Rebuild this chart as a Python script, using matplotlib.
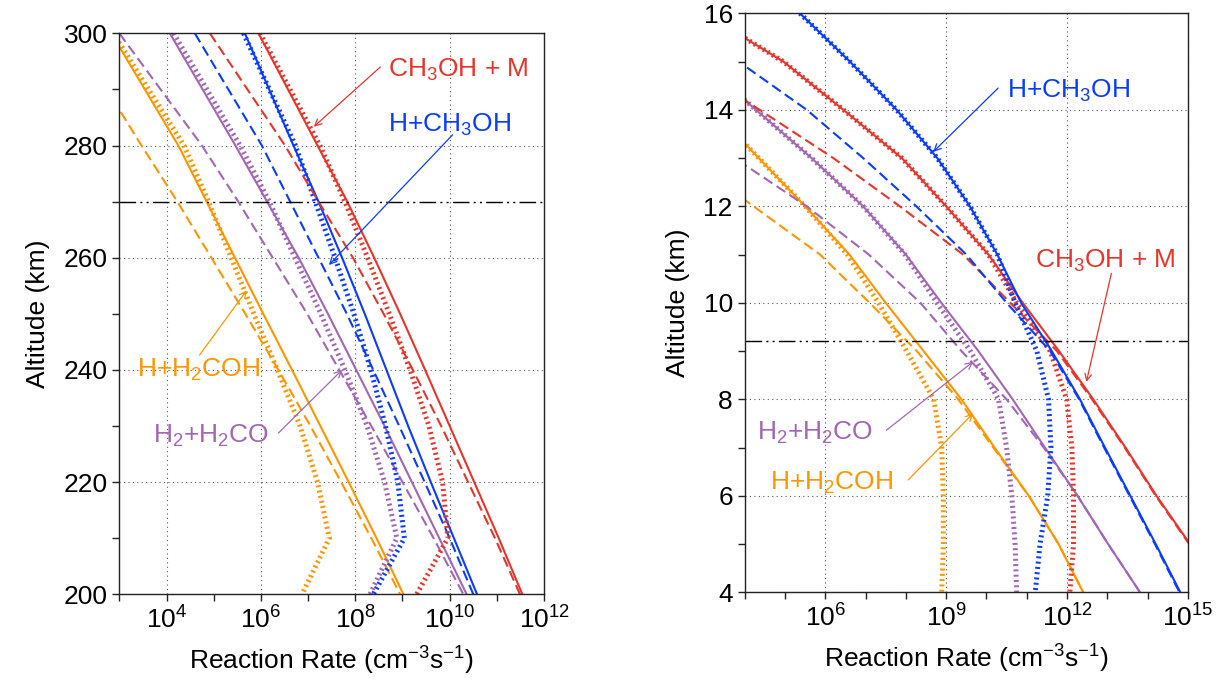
import numpy as np
import matplotlib
matplotlib.use("Agg")
import matplotlib.pyplot as plt
from matplotlib.ticker import FixedLocator, NullFormatter

plt.rcParams['font.family'] = ['Liberation Sans', 'DejaVu Sans']
plt.rcParams['mathtext.fontset'] = 'custom'
plt.rcParams['mathtext.rm'] = 'Liberation Sans'
plt.rcParams['mathtext.it'] = 'Liberation Sans:italic'

## Couleurs
RED = '#e8352b'
BLUE = '#0a3cff'
PURPLE = '#a266b4'
ORANGE = '#ff9500'

## Donnees - panneau gauche (altitude en km, taux en log10 cm-3 s-1)
alt_left = [300, 280, 270, 260, 250, 240, 230, 220, 210, 200]

red_solid_L = [5.95, 7.20, 7.83, 8.40, 8.95, 9.48, 10.0, 10.52, 11.04, 11.54]
red_dash_L = [4.92, 6.51, 7.22, 7.95, 8.60, 9.22, 9.82, 10.39, 10.96, 11.49]
red_dot_L = [5.98, 7.25, 7.78, 8.26, 8.72, 9.16, 9.56, 9.85, 9.96, 9.30]

blue_solid_L = [5.66, 6.69, 7.22, 7.72, 8.20, 8.66, 9.12, 9.60, 10.09, 10.58]
blue_dash_L = [4.60, 6.02, 6.62, 7.22, 7.82, 8.38, 8.93, 9.47, 10.0, 10.50]
blue_dot_L = [5.63, 6.73, 7.15, 7.57, 7.97, 8.33, 8.64, 8.90, 9.04, 8.38]

purple_solid_L = [4.07, 5.46, 6.13, 6.80, 7.42, 8.02, 8.62, 9.20, 9.78, 10.36]
purple_dash_L = [3.0, 4.75, 5.52, 6.25, 6.98, 7.66, 8.34, 9.0, 9.66, 10.29]
purple_dot_L = [4.15, 5.56, 6.18, 6.72, 7.27, 7.78, 8.25, 8.62, 8.88, 8.31]

orange_solid_L = [2.83, 4.25, 4.85, 5.45, 6.05, 6.66, 7.26, 7.86, 8.45, 9.02]
orange_dash_L = [2.0, 3.47, 4.23, 4.95, 5.67, 6.37, 7.05, 7.70, 8.34, 8.95]
orange_dot_L = [2.87, 4.37, 4.89, 5.37, 5.85, 6.35, 6.83, 7.20, 7.45, 6.87]

## Donnees - panneau droit
alt_right = [16, 15, 14, 13, 12, 11, 10, 9, 8, 7, 6, 5, 4]

red_solid_R = [3.0, 4.96, 6.45, 7.9, 9.0, 10.05, 10.9, 11.8, 12.65, 13.45, 14.22, 15.05, 15.9]
red_dash_R = [0.7, 2.5, 4.37, 6.2, 7.85, 9.42, 10.59, 11.75, 12.62, 13.43, 14.2, 15.03, 15.9]
red_dot_R = [3.0, 4.96, 6.45, 7.9, 9.0, 10.05, 10.75, 11.58, 11.99, 12.12, 12.16, 12.16, 12.07]

blue_solid_R = [5.37, 6.61, 7.77, 8.78, 9.59, 10.27, 10.86, 11.62, 12.32, 12.94, 13.57, 14.2, 14.81]
blue_dash_R = [2.2, 3.85, 5.54, 6.94, 8.26, 9.5, 10.5, 11.58, 12.30, 12.92, 13.55, 14.18, 14.79]
blue_dot_R = [5.37, 6.61, 7.77, 8.78, 9.59, 10.27, 10.71, 11.25, 11.54, 11.6, 11.52, 11.33, 11.21]

purple_solid_R = [1.5, 2.9, 4.28, 5.66, 6.94, 8.0, 8.88, 9.8, 10.65, 11.45, 12.26, 13.02, 13.81]
purple_dash_R = [-2.0, 0.0, 1.9, 3.75, 5.54, 7.08, 8.36, 9.38, 10.5, 11.42, 12.26, 13.02, 13.81]
purple_dot_R = [1.5, 2.9, 4.28, 5.66, 6.94, 7.98, 8.77, 9.6, 10.3, 10.5, 10.63, 10.71, 10.75]

orange_solid_R = [0.8, 2.0, 3.2, 4.35, 5.5, 6.6, 7.5, 8.44, 9.38, 10.2, 11.05, 11.79, 12.40]
orange_dash_R = [-2.2, -0.6, 1.0, 2.6, 4.22, 5.87, 7.1, 8.27, 9.3, 10.17, 11.05, 11.79, 12.40]
orange_dot_R = [0.8, 2.0, 3.2, 4.35, 5.5, 6.55, 7.32, 8.02, 8.69, 8.89, 8.93, 8.93, 8.89]

## Styles
SOLID = dict(lw=1.5, ls='-')
DASH = dict(lw=1.5, ls=(0, (5, 2.4)))
DOT = dict(lw=3.6, ls=(0, (0.4, 0.66)), dash_capstyle='butt')


def draw_panel(ax, alt, series):
    for color, solid, dash, dot in series:
        ax.plot(10.0 ** np.array(solid), alt, color=color, **SOLID)
        ax.plot(10.0 ** np.array(dash), alt, color=color, **DASH)
        ax.plot(10.0 ** np.array(dot), alt, color=color, **DOT)


def style_axes(ax, xmaj, xmin, ymaj, ymin, xlabels):
    ax.set_xscale('log')
    ax.xaxis.set_major_locator(FixedLocator([10.0 ** e for e in xmaj]))
    ax.xaxis.set_minor_locator(FixedLocator([10.0 ** e for e in xmin]))
    ax.set_xticklabels(xlabels)
    ax.xaxis.set_minor_formatter(NullFormatter())
    ax.yaxis.set_major_locator(FixedLocator(ymaj))
    ax.yaxis.set_minor_locator(FixedLocator(ymin))
    ax.tick_params(which='both', direction='out', length=5, width=1,
                   top=False, right=False, labelsize=19, color='#222222')
    ax.tick_params(axis='x', which='major', pad=4)
    ax.grid(which='major', ls=(0, (1, 3)), color='#555555', lw=0.8)
    for s in ax.spines.values():
        s.set_color('#222222')
        s.set_linewidth(1.0)
    ax.set_xlabel(r'Reaction Rate (cm$^{\mathregular{-3}}$s$^{\mathregular{-1}}$)', fontsize=19, labelpad=8)
    ax.set_ylabel('Altitude (km)', fontsize=19, labelpad=10)


def label(ax, txt, color, pos, start, tip):
    ax.text(pos[0], pos[1], txt, color=color, fontsize=19, ha='left', va='baseline')
    ax.annotate('', xy=tip, xytext=start,
                arrowprops=dict(arrowstyle='->', color=color, lw=0.9,
                                shrinkA=0, shrinkB=0, mutation_scale=12))


fig = plt.figure(figsize=(12.29, 6.79), dpi=100)

## Panneau gauche
ax1 = fig.add_axes([0.0971, 0.1247, 0.3456, 0.8262])
draw_panel(ax1, alt_left, [
    (ORANGE, orange_solid_L, orange_dash_L, orange_dot_L),
    (PURPLE, purple_solid_L, purple_dash_L, purple_dot_L),
    (BLUE, blue_solid_L, blue_dash_L, blue_dot_L),
    (RED, red_solid_L, red_dash_L, red_dot_L),
])
ax1.axhline(270, color='k', lw=1, ls=(0, (12, 3, 1.5, 3, 1.5, 3)))
ax1.set_xlim(1e3, 1e12)
ax1.set_ylim(200, 300)
style_axes(ax1, [4, 6, 8, 10, 12], [3, 5, 7, 9, 11],
           [200, 220, 240, 260, 280, 300], [210, 230, 250, 270, 290],
           [r'$\mathregular{10^{%d}}$' % e for e in [4, 6, 8, 10, 12]])

label(ax1, r'CH$_3$OH + M', RED, (10 ** 8.70, 292.3), (10 ** 8.53, 294.0), (10 ** 7.12, 283.35))
label(ax1, r'H+CH$_3$OH', BLUE, (10 ** 8.70, 282.4), (10 ** 10.06, 281.9), (10 ** 7.44, 258.7))
label(ax1, r'H+H$_2$COH', ORANGE, (10 ** 3.37, 238.75), (10 ** 4.70, 242.65), (10 ** 5.70, 254.2))
label(ax1, r'H$_2$+H$_2$CO', PURPLE, (10 ** 3.72, 227.0), (10 ** 6.37, 228.75), (10 ** 7.72, 240.0))

## Panneau droit
ax2 = fig.add_axes([0.6059, 0.1277, 0.3607, 0.8527])
draw_panel(ax2, alt_right, [
    (ORANGE, orange_solid_R, orange_dash_R, orange_dot_R),
    (PURPLE, purple_solid_R, purple_dash_R, purple_dot_R),
    (RED, red_solid_R, red_dash_R, red_dot_R),
    (BLUE, blue_solid_R, blue_dash_R, blue_dot_R),
])
ax2.axhline(9.2, color='k', lw=1, ls=(0, (12, 3, 1.5, 3, 1.5, 3)))
ax2.set_xlim(1e4, 1e15)
ax2.set_ylim(4, 16)
style_axes(ax2, [6, 9, 12, 15], [4, 5, 7, 8, 10, 11, 13, 14],
           [4, 6, 8, 10, 12, 14, 16], [5, 7, 9, 11, 13, 15],
           [r'$\mathregular{10^{%d}}$' % e for e in [6, 9, 12, 15]])

label(ax2, r'H+CH$_3$OH', BLUE, (10 ** 10.50, 14.24), (10 ** 10.29, 14.45), (10 ** 8.68, 13.13))
label(ax2, r'CH$_3$OH + M', RED, (10 ** 11.20, 10.72), (10 ** 13.10, 10.61), (10 ** 12.48, 8.36))
label(ax2, r'H$_2$+H$_2$CO', PURPLE, (10 ** 4.30, 7.16), (10 ** 7.52, 7.36), (10 ** 9.67, 8.78))
label(ax2, r'H+H$_2$COH', ORANGE, (10 ** 4.63, 6.12), (10 ** 8.06, 6.33), (10 ** 9.67, 7.71))

fig.savefig('out.png', dpi=100)
